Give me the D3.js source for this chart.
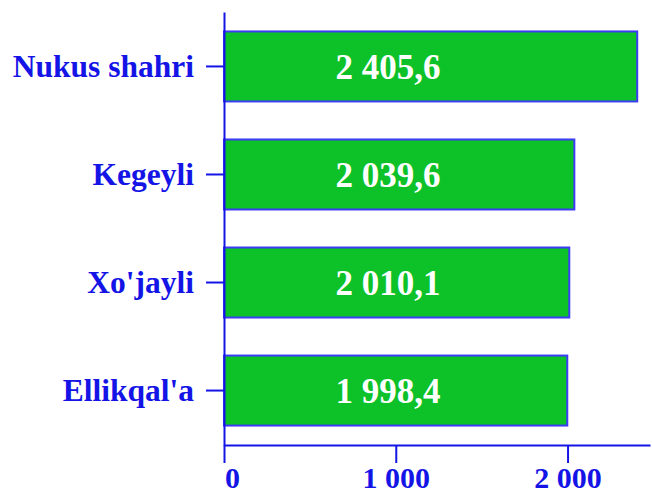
<!DOCTYPE html>
<html>
<head>
<meta charset="utf-8">
<script src="https://cdn.jsdelivr.net/npm/d3@7"></script>
<style>
body { margin: 0; background: #fff; }
text { font-family: "Liberation Serif", "Times New Roman", serif; font-weight: bold; }
</style>
</head>
<body>
<script>
// data
var districts = ["Nukus shahri", "Kegeyli", "Xo'jayli", "Ellikqal'a"];
var values = [2405.6, 2039.6, 2010.1, 1998.4];
var valueLabels = ["2 405,6", "2 039,6", "2 010,1", "1 998,4"];
var xTicks = [0, 1000, 2000];
var xTickLabels = ["0", "1 000", "2 000"];

var width = 652, height = 493;
var blue = "#1414e6";

var svg = d3.select("body").append("svg")
    .attr("width", width)
    .attr("height", height);

var x = d3.scaleLinear().domain([0, 2480]).range([224, 650]);
var y = d3.scaleBand().domain(districts).range([12, 445])
    .paddingInner(0.352).paddingOuter(0.18);

// bars
svg.append("g").selectAll("rect")
    .data(values)
    .enter().append("rect")
    .attr("x", x(0))
    .attr("y", function (d, i) { return y(districts[i]); })
    .attr("width", function (d) { return x(d) - x(0); })
    .attr("height", y.bandwidth())
    .attr("fill", "#0dc228")
    .attr("stroke", "#3c3cf5")
    .attr("stroke-width", 2);

// value labels (all at the same horizontal position)
svg.append("g").selectAll("text")
    .data(valueLabels)
    .enter().append("text")
    .attr("x", x(955))
    .attr("y", function (d, i) { return y(districts[i]) + y.bandwidth() / 2; })
    .attr("dy", "0.35em")
    .attr("text-anchor", "middle")
    .attr("fill", "#fff")
    .style("font-size", "35px")
    .text(function (d) { return d; });

// y axis
var yAxis = svg.append("g")
    .attr("transform", "translate(" + x(0) + ",0)")
    .call(d3.axisLeft(y).tickSize(18).tickPadding(12).tickSizeOuter(0));
yAxis.select(".domain").attr("stroke", blue).attr("stroke-width", 2);
yAxis.selectAll(".tick line").attr("stroke", blue).attr("stroke-width", 2);
yAxis.selectAll(".tick text")
    .attr("fill", blue)
    .style("font-size", "31.5px")
    .style("font-family", "Liberation Serif, serif");

// x axis
var xAxis = svg.append("g")
    .attr("transform", "translate(0,445)")
    .call(d3.axisBottom(x).tickValues(xTicks).tickSize(18).tickPadding(4).tickSizeOuter(0)
        .tickFormat(function (d, i) { return xTickLabels[i]; }));
xAxis.select(".domain").attr("stroke", blue).attr("stroke-width", 2);
xAxis.selectAll(".tick line").attr("stroke", blue).attr("stroke-width", 2);
xAxis.selectAll(".tick text")
    .attr("fill", blue)
    .style("font-size", "30px")
    .style("font-family", "Liberation Serif, serif")
    .attr("dx", function (d, i) { return i === 0 ? 8 : 0; });
</script>
</body>
</html>
